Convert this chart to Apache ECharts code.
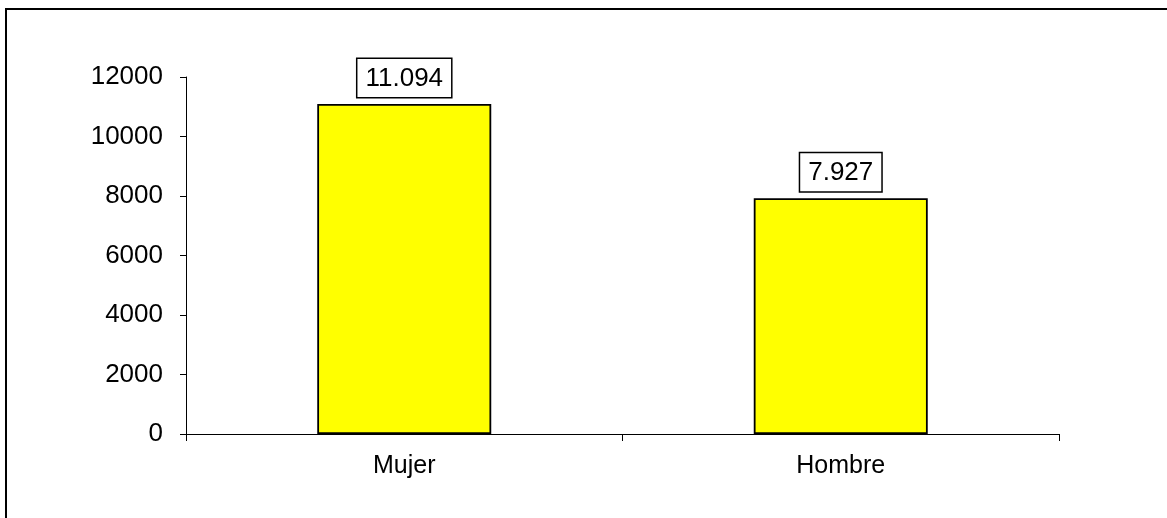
<!DOCTYPE html>
<html>
<head>
<meta charset="utf-8">
<style>
  html, body { margin: 0; padding: 0; background: #ffffff; }
  #chart { width: 1167px; height: 518px; }
</style>
<script src="https://cdn.jsdelivr.net/npm/echarts@6/dist/echarts.min.js"></script>
</head>
<body>
<div id="chart"></div>
<script>
const categories = ['Mujer', 'Hombre'];
const values = [11094, 7927];
const yTicks = [0, 2000, 4000, 6000, 8000, 10000, 12000];

function fmtThousands(v) {
  return String(v).replace(/\B(?=(\d{3})+(?!\d))/g, '.');
}

const chart = echarts.init(document.getElementById('chart'), null, { renderer: 'canvas' });
const FONT = '"Liberation Sans", Arial, sans-serif';

chart.setOption({
  animation: false,
  backgroundColor: '#ffffff',
  graphic: [{
    type: 'rect',
    shape: { x: 6, y: 9, width: 1300, height: 700 },
    style: { fill: 'none', stroke: '#000000', lineWidth: 2 },
    silent: true
  }],
  grid: { left: 186, top: 77, right: 108, bottom: 84 },
  xAxis: {
    type: 'category',
    data: categories,
    axisLine: { lineStyle: { color: '#000000', width: 1 } },
    axisTick: { show: true, length: 7, lineStyle: { color: '#000000' } },
    axisLabel: { color: '#000000', fontSize: 25, fontFamily: FONT, margin: 20 },
    splitLine: { show: false }
  },
  yAxis: {
    type: 'value',
    min: yTicks[0],
    max: yTicks[yTicks.length - 1],
    interval: 2000,
    axisLine: { show: true, lineStyle: { color: '#000000', width: 1 } },
    axisTick: { show: true, length: 6, lineStyle: { color: '#000000' } },
    axisLabel: { color: '#000000', fontSize: 26, fontFamily: FONT, margin: 23, formatter: v => String(v) },
    splitLine: { show: false }
  },
  series: [{
    type: 'bar',
    data: values,
    barWidth: 174,
    itemStyle: { color: '#FFFF00', borderColor: '#000000', borderWidth: 1.8 },
    label: {
      show: true,
      position: 'top',
      distance: 7,
      formatter: p => fmtThousands(p.value),
      color: '#000000',
      fontSize: 26,
      fontFamily: FONT,
      backgroundColor: '#ffffff',
      borderColor: '#000000',
      borderWidth: 1.5,
      padding: [7, 8, 5, 8]
    }
  }]
});
</script>
</body>
</html>
